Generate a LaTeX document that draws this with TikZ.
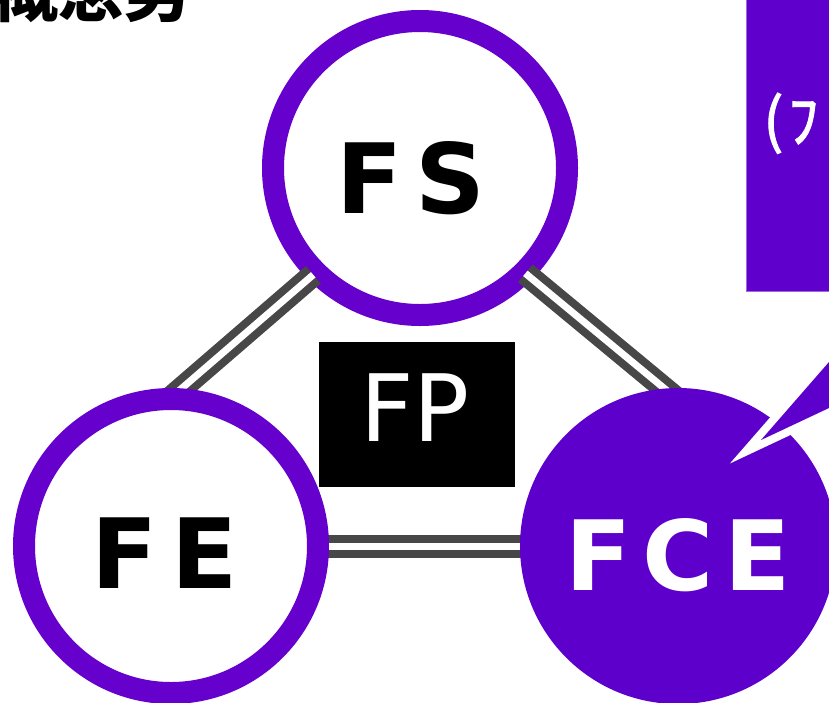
\documentclass[tikz,border=0pt]{standalone}
\usepackage{fontspec}
\setmainfont{DejaVu Sans}
\newfontfamily\cjk{Noto Sans CJK JP}
\newfontfamily\cjkm{Noto Sans CJK JP}[FakeBold=1.6]
\usetikzlibrary{calc}
\definecolor{ringp}{HTML}{6600CC}
\definecolor{fillp}{HTML}{5E00CC}
\definecolor{boxp}{HTML}{6000CC}
\definecolor{conng}{HTML}{474747}
\pgfdeclarelayer{back}
\pgfdeclarelayer{mid}
\pgfsetlayers{back,mid,main}
\begin{document}
\begin{tikzpicture}[x=1pt,y=-1pt,
  ring/.style={circle, draw=ringp, line width=22pt, minimum size=294pt, fill=white, inner sep=0pt},
  soliddisc/.style={circle, fill=fillp, minimum size=316pt, inner sep=0pt},
  conn/.style={draw=conng, line width=8pt, double=white, double distance=7pt},
  bigtxt/.style={font=\bfseries\fontsize{97}{97}\selectfont, inner sep=0pt, anchor=base west},
  fptxt/.style={font=\fontsize{93}{93}\selectfont, text=white, inner sep=0pt, anchor=base west},
]
\useasboundingbox (0,0) rectangle (829,702);
\clip (0,0) rectangle (829,702);
% title (cut off at top)
\node[font=\cjk\bfseries\fontsize{66}{66}\selectfont, anchor=base west, inner sep=0pt] (title) at (-8,16) {概念男};
% top-right callout box
\fill[boxp] (746,-20) rectangle (900,291);
\draw[color=boxp!60!white, line width=1pt] (746.5,-20) -- (746.5,291) -- (900,291);
\node[font=\cjkm\fontsize{60}{60}\selectfont, text=white, anchor=base west, inner sep=0pt] (callt) at (763,142) {(\hspace{5pt}ﾌ};
% circles
\begin{pgfonlayer}{back}
\node[ring] (fs) at (420,168) {};
\end{pgfonlayer}
\node[ring] (fe) at (171,546) {};
\node[soliddisc] (fce) at (678,546) {};
\coordinate (fsL) at ($(fs.center)!151pt!(fs.south west)$);
\coordinate (fsR) at ($(fs.center)!149pt!(fs.south east)$);
\coordinate (feIn) at ($(fe.center)+(-41,-113)$);
\coordinate (fceIn) at ($(fce.center)+(22,-128)$);
% connectors
\begin{pgfonlayer}{mid}
\draw[conn] (fsL) -- (feIn);
\draw[conn] (fsR) -- (fceIn);
\draw[conn] (fe.center) -- (fce.center);
\end{pgfonlayer}
% callout tail
\filldraw[fill=fillp, draw=white, line width=16pt, miter limit=10] (761,440) -- (880,303.5) -- (880,384) -- cycle;
\fill[fillp] (761,440) -- (880,303.5) -- (880,384) -- cycle;
% labels
\node[bigtxt] (fsl) at (336,213) {F\hspace{13pt}S};
\node[bigtxt] (fel) at (91,588) {F\hspace{14pt}E};
\node[bigtxt, text=white] (fcel) at (565,590) {F\hspace{11pt}C\hspace{11pt}E};
% FP box
\node[fill=black, minimum width=196pt, minimum height=145pt, inner sep=0pt, anchor=north west] (fp) at (319,342) {};
\node[fptxt] (fpl) at (360,441) {FP};
\end{tikzpicture}
\end{document}
